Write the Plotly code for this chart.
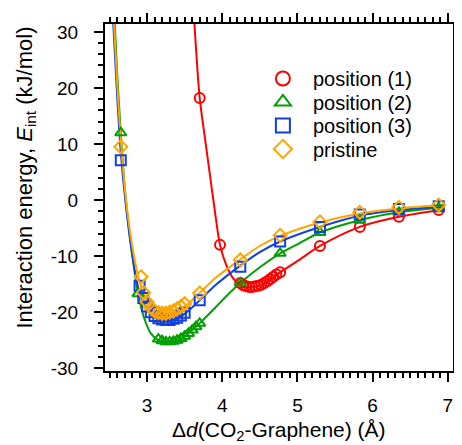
import plotly.graph_objects as go

# ---------------- data ----------------
# measured points
x_pos1 = [3.70, 3.97, 4.24, 4.28, 4.32, 4.36, 4.40, 4.44, 4.48, 4.52, 4.56, 4.60, 4.64, 4.68, 4.72, 4.77, 5.30, 5.83, 6.35, 6.88]
y_pos1 = [18.2, -8.0, -14.8, -15.2, -15.4, -15.5, -15.5, -15.4, -15.3, -15.1, -14.8, -14.5, -14.1, -13.7, -13.3, -12.9, -8.2, -4.8, -3.0, -1.8]

x_pos2 = [2.65, 2.88, 3.15, 3.20, 3.25, 3.30, 3.35, 3.40, 3.45, 3.50, 3.55, 3.60, 3.65, 3.70, 4.24, 4.77, 5.30, 5.83, 6.35, 6.88]
y_pos2 = [12.0, -16.7, -24.8, -25.1, -25.3, -25.3, -25.2, -25.0, -24.7, -24.3, -23.8, -23.2, -22.6, -22.0, -14.8, -9.5, -5.8, -3.6, -2.2, -1.4]

x_pos3 = [2.65, 2.90, 2.95, 3.00, 3.05, 3.10, 3.15, 3.20, 3.25, 3.30, 3.35, 3.40, 3.45, 3.50, 3.70, 4.24, 4.77, 5.30, 5.83, 6.35, 6.88]
y_pos3 = [7.1, -15.3, -17.5, -19.0, -20.0, -20.7, -21.1, -21.3, -21.4, -21.4, -21.2, -21.0, -20.6, -20.1, -17.9, -11.9, -7.4, -4.8, -2.6, -1.6, -1.1]

x_pris = [2.65, 2.92, 2.95, 3.00, 3.05, 3.10, 3.15, 3.20, 3.25, 3.30, 3.35, 3.40, 3.45, 3.50, 3.70, 4.24, 4.77, 5.30, 5.83, 6.35, 6.88]
y_pris = [9.5, -13.7, -16.5, -18.2, -19.2, -19.8, -20.1, -20.2, -20.2, -20.0, -19.8, -19.4, -19.0, -18.5, -16.6, -10.7, -6.3, -3.9, -2.2, -1.3, -0.9]

# fitted curves
fx_pos1 = [3.63, 3.70, 3.77, 3.84, 3.90, 3.97, 4.05, 4.14, 4.22, 4.30, 4.40, 4.50, 4.60, 4.77, 5.00, 5.30, 5.83, 6.35, 6.95]
fy_pos1 = [31.4, 18.2, 11.0, 4.1, -1.8, -8.0, -11.5, -13.9, -15.0, -15.5, -15.6, -15.2, -14.5, -12.9, -10.9, -8.2, -4.8, -3.0, -1.7]

fx_pos2 = [2.57, 2.60, 2.65, 2.71, 2.78, 2.88, 2.96, 3.05, 3.15, 3.30, 3.45, 3.60, 3.73, 3.90, 4.05, 4.24, 4.50, 4.77, 5.00, 5.30, 5.83, 6.35, 6.95]
fy_pos2 = [31.4, 23.0, 12.0, 1.0, -7.5, -16.7, -21.0, -23.8, -25.0, -25.4, -24.8, -23.2, -21.6, -19.3, -17.2, -14.8, -12.0, -9.5, -7.9, -5.8, -3.6, -2.2, -1.3]

fx_pos3 = [2.55, 2.60, 2.65, 2.71, 2.80, 2.88, 2.95, 3.05, 3.15, 3.25, 3.35, 3.50, 3.70, 3.90, 4.24, 4.50, 4.77, 5.30, 5.83, 6.35, 6.95]
fy_pos3 = [31.4, 19.0, 8.5, 0.0, -9.5, -15.5, -18.3, -20.3, -21.3, -21.6, -21.4, -20.3, -17.9, -15.3, -11.7, -9.3, -7.4, -4.8, -2.8, -1.8, -1.1]

fx_pris = [2.56, 2.61, 2.66, 2.72, 2.80, 2.88, 2.95, 3.05, 3.15, 3.25, 3.35, 3.50, 3.70, 3.90, 4.24, 4.50, 4.77, 5.30, 5.83, 6.35, 6.95]
fy_pris = [31.4, 19.0, 9.0, 0.0, -8.0, -13.5, -16.6, -18.8, -19.9, -20.3, -20.1, -19.0, -16.6, -14.0, -10.6, -8.2, -6.4, -4.0, -2.4, -1.5, -0.9]

labels = ["position (1)", "position (2)", "position (3)", "pristine"]
colors = ["#ff0000", "#00a000", "#1040e0", "#ffa500"]
symbols = ["circle-open", "triangle-up-open", "square-open", "diamond-open"]

x_ticks = [3, 4, 5, 6, 7]
y_ticks = [-30, -20, -10, 0, 10, 20, 30]

x_title = "Δ<i>d</i>(CO<sub>2</sub>-Graphene) (Å)"
y_title = "Interaction energy, <i>E</i><sub>int</sub> (kJ/mol)"

FONT = "Liberation Sans, Arial"

# page body has an 8px default margin: figure is sized so that it fits the window
W, H = 454, 437
ML, MR, MT, MB = 97, 9, 16, 74
W_PLOT = W - ML - MR
H_PLOT = H - MT - MB

# ---------------- figure ----------------
fig = go.Figure()
series = [(x_pos1, y_pos1, fx_pos1, fy_pos1), (x_pos2, y_pos2, fx_pos2, fy_pos2),
          (x_pos3, y_pos3, fx_pos3, fy_pos3), (x_pris, y_pris, fx_pris, fy_pris)]

# fitted curves
for (px, py, fx, fy), c in zip(series, colors):
    fig.add_trace(go.Scatter(x=fx, y=fy, mode="lines", line=dict(color=c, width=2, shape="spline", smoothing=0.8),
                             showlegend=False, hoverinfo="skip"))
# markers
for (px, py, fx, fy), c, s in zip(series, colors, symbols):
    fig.add_trace(go.Scatter(x=px, y=py, mode="markers",
                             marker=dict(symbol=s, size=10, color=c, line=dict(color=c, width=2)),
                             showlegend=False))

# legend entries: one legend per row so each row can be placed exactly
row_px = [70.5, 94.0, 117.5, 141.0]   # row centres in figure pixels
legend_layouts = {}
for i, (lab, c, s) in enumerate(zip(labels, colors, symbols)):
    key = "legend" if i == 0 else f"legend{i + 1}"
    fig.add_trace(go.Scatter(x=[None], y=[None], mode="markers", name=lab, legend=key, showlegend=True,
                             marker=dict(symbol=s, size=14, color=c, line=dict(color=c, width=2))))
    legend_layouts[key] = dict(x=0.425, y=(H - MB - row_px[i]) / H_PLOT, xanchor="left", yanchor="middle",
                               bgcolor="rgba(0,0,0,0)", itemwidth=50,
                               font=dict(family=FONT, size=20, color="black"))

axis_common = dict(showgrid=False, zeroline=False, showline=True, linecolor="black", linewidth=2,
                   ticks="outside", tickcolor="black", tickwidth=2, ticklen=9, mirror="allticks",
                   automargin=False,
                   tickfont=dict(family=FONT, size=19, color="black"))

fig.update_xaxes(range=[2.44, 7.07], tickvals=x_ticks, ticktext=[str(v) for v in x_ticks],
                 ticklabelstandoff=7,
                 minor=dict(dtick=0.1, tick0=0, ticks="outside", ticklen=5, tickwidth=2, tickcolor="black"),
                 **axis_common)
fig.update_yaxes(range=[-30.5, 31.4], tickvals=y_ticks, ticktext=[str(v) for v in y_ticks],
                 ticklabelstandoff=12,
                 minor=dict(dtick=2, tick0=0, ticks="outside", ticklen=5, tickwidth=2, tickcolor="black"),
                 **axis_common)

# axis titles as annotations (exact placement)
fig.add_annotation(text=x_title, xref="paper", yref="paper", x=(270.5 - ML) / W_PLOT, y=(H - MB - 437) / H_PLOT,
                   xanchor="center", yanchor="bottom", showarrow=False, borderpad=0,
                   font=dict(family=FONT, size=21, color="black"))
fig.add_annotation(text=y_title, xref="paper", yref="paper", x=(17 - ML) / W_PLOT, y=(H - MB - 169.5) / H_PLOT,
                   xanchor="center", yanchor="middle", textangle=-90, showarrow=False,
                   font=dict(family=FONT, size=22, color="black"))

fig.update_layout(width=W, height=H, margin=dict(l=ML, r=MR, t=MT, b=MB),
                  plot_bgcolor="white", paper_bgcolor="white",
                  font=dict(family=FONT, color="black"),
                  **legend_layouts)

fig.write_html("out.html")
